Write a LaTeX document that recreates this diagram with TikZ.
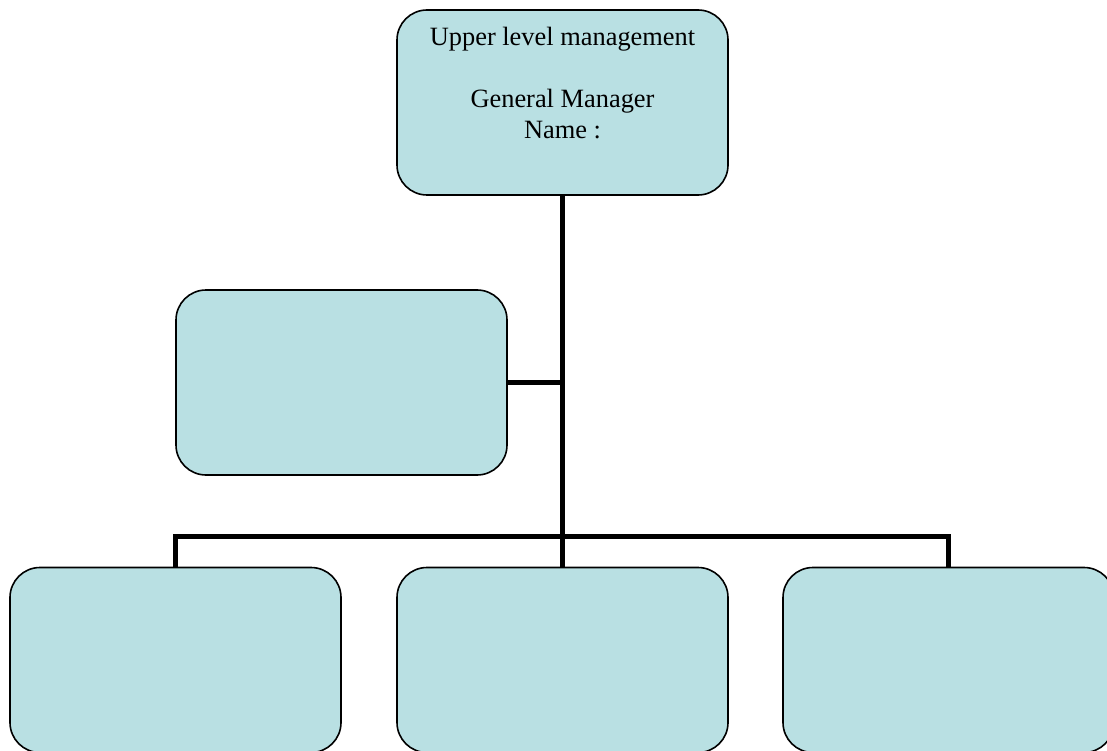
\documentclass[tikz,border=0pt]{standalone}
\usepackage{fontspec}
\setmainfont{Liberation Serif}
\usetikzlibrary{positioning,calc}
\definecolor{BoxFill}{HTML}{B9E0E3}

\begin{document}
\begin{tikzpicture}[x=1pt,y=-1pt,
  unit/.style={draw=black,line width=1.6pt,rounded corners=30pt,fill=BoxFill,
               minimum width=331pt,minimum height=185pt,inner sep=0pt},
  title/.style={align=center,inner sep=0pt,font=\fontsize{26.4}{31}\selectfont},
  link/.style={line width=5pt,draw=black}
]
  \useasboundingbox (0,0) rectangle (1107,751);
  \clip (0,0) rectangle (1107,751);
  % boxes
  \node[unit] (gm) at (562.5,102.5) {};
  \node[title,anchor=north] (gmtext) at (562.5,27) {Upper level management\\[31pt]General Manager\\Name :};
  \node[unit] (staff) at (341.5,382.5) {};
  \node[unit] (dleft) at (175.5,660) {};
  \node[unit] (dmid) at (562.5,660) {};
  \node[unit] (dright) at (948.5,660) {};
  % connectors
  \coordinate (bus) at (562.5,536);
  \draw[link] (gm.south) -- (bus);
  \draw[link] (staff.east) -- (staff.east -| bus);
  \draw[link] (dleft.north) |- (bus) -| (dright.north);
  \draw[link] (bus) -- (dmid.north);
\end{tikzpicture}
\end{document}
